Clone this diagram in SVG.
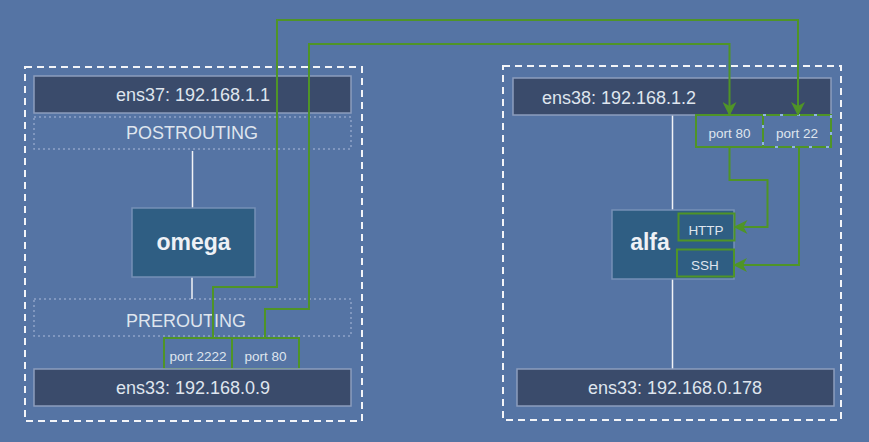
<svg xmlns="http://www.w3.org/2000/svg" width="869" height="442" viewBox="0 0 869 442">
<defs>
<style>
.bg{fill:#5574a4}
.host{fill:none;stroke:#f2f4f8;stroke-width:2;stroke-dasharray:7,5}
.bar{fill:#3a4b6b;stroke:#8c9dbd;stroke-width:1.5}
.chain{fill:none;stroke:#8ea3c7;stroke-width:1.5;stroke-dasharray:2,3}
.node{fill:#2f5e83;stroke:#7690b6;stroke-width:1.5}
.port{fill:none;stroke:#4f9427;stroke-width:2}
.handles{fill:none;stroke:#8fb6df;stroke-width:2;stroke-dasharray:3,14}
.link{fill:none;stroke:#f0f2f6;stroke-width:1.5}
.wire{fill:none;stroke:#4f9427;stroke-width:2}
.t{font-family:"Liberation Sans",Arial,sans-serif;fill:#dfe5ee;text-anchor:middle}
.big{font-size:18px}
.small{font-size:13.5px}
.bold{font-size:23px;font-weight:bold;fill:#eef1f6}
</style>
<marker id="arr" viewBox="0 0 14 14" refX="13" refY="7" markerWidth="14" markerHeight="14" markerUnits="userSpaceOnUse" orient="auto">
<path d="M0,0 L14,7 L0,14 L4,7 z" fill="#4f9427"/>
</marker>
</defs>
<rect class="bg" x="0" y="0" width="869" height="442"/>

<g id="omega-host">
<rect class="host" x="25" y="67" width="337" height="354"/>
</g>
<g id="alfa-host">
<rect class="host" x="503" y="66" width="338" height="354"/>
</g>

<g id="links">
<line class="link" x1="192.5" y1="151" x2="192.5" y2="209"/>
<line class="link" x1="192" y1="277" x2="192" y2="299"/>
<line class="link" x1="672.5" y1="115" x2="672.5" y2="210"/>
<line class="link" x1="672.5" y1="279" x2="672.5" y2="369"/>
</g>

<g id="ens37">
<rect class="bar" x="34" y="76" width="317" height="37"/>
<text class="t big" x="193" y="101">ens37: 192.168.1.1</text>
</g>
<g id="postrouting">
<rect class="chain" x="34" y="117" width="317" height="32"/>
<text class="t big" x="126" y="138.5" style="text-anchor:start">POSTROUTING</text>
</g>
<g id="omega">
<rect class="node" x="132" y="208" width="123" height="69"/>
<text class="t bold" x="193.5" y="250">omega</text>
</g>
<g id="prerouting">
<rect class="chain" x="34" y="299" width="317" height="37"/>
<text class="t big" x="126" y="327" style="text-anchor:start">PREROUTING</text>
</g>
<g id="omega-port2222">
<rect class="port" x="164" y="338" width="68" height="31"/>
<text class="t small" x="198" y="361">port 2222</text>
</g>
<g id="omega-port80">
<rect class="port" x="232" y="338" width="67" height="31"/>
<text class="t small" x="265.5" y="361">port 80</text>
</g>
<g id="ens33-omega">
<rect class="bar" x="34" y="369" width="317" height="37"/>
<text class="t big" x="193" y="394">ens33: 192.168.0.9</text>
</g>

<g id="ens38">
<rect class="bar" x="513" y="78" width="318" height="37"/>
<text class="t big" x="542" y="104" style="text-anchor:start">ens38: 192.168.1.2</text>
</g>
<g id="alfa-port80">
<rect class="port" x="696" y="115" width="67" height="32"/>
<text class="t small" x="729.5" y="138">port 80</text>
</g>
<g id="alfa-port22">
<rect class="port" x="763" y="115" width="68" height="32"/>
<rect class="handles" x="763" y="115" width="68" height="32"/>
<text class="t small" x="797" y="138">port 22</text>
</g>
<g id="alfa">
<rect class="node" x="612" y="210" width="122" height="69"/>
<text class="t bold" x="650" y="250">alfa</text>
</g>
<g id="alfa-http">
<rect class="port" x="678.5" y="213.5" width="56" height="27"/>
<text class="t small" x="706" y="235">HTTP</text>
</g>
<g id="alfa-ssh">
<rect class="port" x="677" y="249.5" width="57" height="27"/>
<text class="t small" x="705" y="270">SSH</text>
</g>
<g id="ens33-alfa">
<rect class="bar" x="517" y="369" width="317" height="37"/>
<text class="t big" x="675" y="393.5">ens33: 192.168.0.178</text>
</g>

<g id="connectors">
<polyline class="wire" points="213,338 213,287 277,287 277,20 798,20 798,115" marker-end="url(#arr)"/>
<polyline class="wire" points="265,338 265,309 309,309 309,44 729.5,44 729.5,115" marker-end="url(#arr)"/>
<polyline class="wire" points="729.5,147 729.5,180 767.5,180 767.5,227 734.5,227" marker-end="url(#arr)"/>
<polyline class="wire" points="799,147 799,265 734,265" marker-end="url(#arr)"/>
</g>
</svg>
